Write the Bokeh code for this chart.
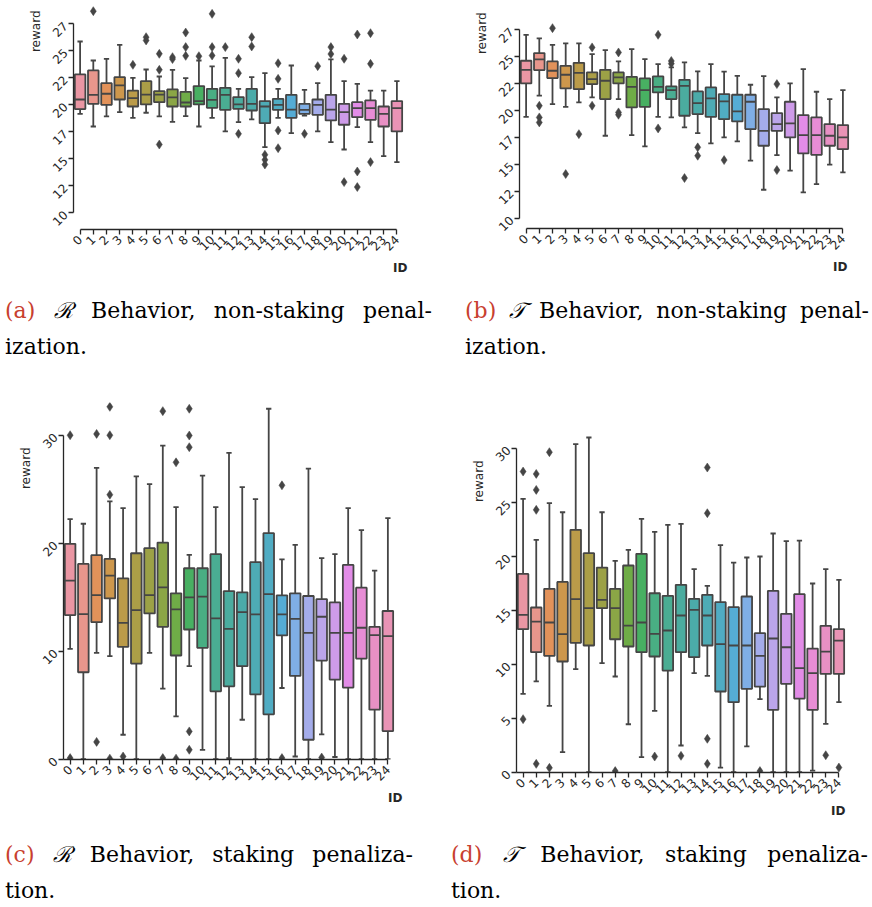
import math
import colorsys
from bokeh.plotting import figure
from bokeh.models import FixedTicker, Range1d, Div, Title
from bokeh.layouts import column, row
from bokeh.embed import file_html
from bokeh.resources import INLINE

# ---------------- data ----------------
ids = list(range(25))
xtick_labels = [str(i) for i in ids]

yticks_ab = [10, 12.5, 15, 17.5, 20, 22.5, 25, 27.5]
ytick_labels_ab = ["10", "12", "15", "17", "20", "22", "25", "27"]
yticks_c = [0, 10, 20, 30]
ytick_labels_c = ["0", "10", "20", "30"]
yticks_d = [0, 5, 10, 15, 20, 25, 30]
ytick_labels_d = ["0", "5", "10", "15", "20", "25", "30"]

# (a) R behaviour, non-staking penalization
a_low = [19.16, 17.99, 18.92, 19.32, 18.79, 19.26, 18.92, 18.42, 18.95, 17.99, 18.79, 17.53, 18.39,
         18.64, 16.08, 18.79, 17.37, 19.0, 17.53, 16.54, 15.86, 17.93, 16.54, 15.24, 14.69]
a_q1 = [19.6, 20.09, 20.0, 20.49, 19.84, 20.03, 20.24, 19.84, 19.84, 20.03, 19.72, 19.53, 19.63,
        19.47, 18.3, 19.53, 18.79, 19.16, 19.07, 18.55, 18.15, 18.85, 18.61, 17.99, 17.53]
a_med = [20.49, 20.92, 21.02, 21.79, 20.61, 20.95, 20.95, 20.68, 20.21, 20.34, 20.46, 20.92, 20.03,
         20.09, 19.84, 20.0, 19.56, 19.53, 20.0, 19.56, 19.32, 19.69, 19.69, 19.16, 19.69]
a_q3 = [22.81, 23.18, 22.0, 22.56, 21.32, 22.19, 21.26, 21.42, 21.2, 21.73, 21.48, 21.57, 20.71,
        21.48, 20.34, 20.55, 20.92, 20.09, 20.49, 20.92, 20.09, 20.24, 20.4, 19.84, 20.34]
a_high = [25.86, 24.1, 24.26, 25.55, 22.5, 23.27, 22.62, 23.24, 22.47, 24.1, 23.55, 24.35, 21.48,
          22.56, 22.93, 21.48, 23.64, 21.39, 22.0, 24.2, 22.19, 21.94, 21.32, 21.32, 22.19]
a_out_id = [1, 4, 5, 5, 6, 6, 6, 7, 7, 8, 8, 8, 9, 10, 10, 10, 11, 12, 12, 12, 13, 13, 14, 14, 14,
            15, 15, 15, 15, 17, 18, 19, 19, 20, 20, 21, 21, 21, 22, 22, 22]
a_out_val = [28.67, 23.7, 26.26, 25.96, 24.72, 23.24, 16.32, 24.41, 24.23, 26.69, 25.34, 24.53, 24.5,
             28.42, 25.34, 24.56, 25.34, 24.26, 22.93, 17.31, 26.26, 25.4, 15.37, 14.9, 14.47,
             23.85, 22.4, 17.62, 15.98, 17.31, 23.58, 25.34, 24.7, 24.26, 12.84, 26.51, 13.82, 12.38,
             26.63, 23.79, 14.69]

# (b) T behaviour, non-staking penalization
b_low = [19.41, 21.37, 20.59, 20.34, 20.75, 21.21, 17.65, 21.06, 17.71, 16.66, 19.41, 19.35, 18.42,
         17.9, 16.94, 17.49, 17.12, 15.33, 12.63, 15.85, 14.4, 12.38, 13.16, 14.96, 14.24]
b_q1 = [22.51, 23.75, 23.01, 22.05, 21.99, 22.45, 21.06, 22.51, 20.28, 20.34, 21.68, 21.06, 19.51,
        19.66, 19.41, 19.2, 18.98, 18.27, 16.72, 18.11, 17.49, 16.01, 15.88, 16.72, 16.41]
b_med = [23.78, 24.74, 23.69, 23.32, 23.5, 22.91, 22.76, 23.07, 22.2, 21.89, 22.2, 21.89, 22.29,
         20.68, 21.12, 20.84, 19.91, 20.81, 18.11, 18.73, 18.8, 17.71, 17.71, 17.65, 17.49]
b_q3 = [24.62, 25.33, 24.56, 24.15, 24.43, 23.53, 23.78, 23.53, 23.13, 22.98, 23.16, 22.23, 22.85,
        21.77, 22.14, 21.52, 21.46, 21.46, 20.13, 19.76, 20.81, 19.57, 19.35, 18.73, 18.64]
b_high = [27.03, 26.69, 26.1, 26.23, 26.23, 25.24, 25.61, 24.56, 25.7, 24.77, 24.31, 24.0, 24.46,
          23.63, 24.31, 23.6, 23.22, 22.39, 23.19, 21.21, 22.51, 23.84, 21.74, 21.06, 21.89]
b_out_id = [1, 1, 1, 2, 3, 4, 5, 5, 7, 7, 7, 10, 10, 11, 11, 12, 13, 13, 15, 19, 19]
b_out_val = [20.44, 19.35, 18.89, 27.65, 14.09, 17.8, 25.86, 20.44, 25.39, 19.82, 19.6, 27.03, 18.33,
             24.6, 24.35, 13.72, 16.57, 15.79, 15.39, 22.45, 14.46]

# (c) R behaviour, staking penalization
c_low = [10.22, 0, 9.85, 9.54, 2.26, 0, 9.85, 6.53, 3.96, 8.61, 0.87, 0, 0.1, 3.65, 0, 0, 6.59, 0.25,
         0, 2.29, 0.2, 0, 0, 0, 0]
c_q1 = [13.34, 8.05, 12.69, 14.89, 10.4, 8.85, 13.5, 12.26, 9.6, 12.01, 10.31, 6.28, 6.75, 8.61, 6.0,
        4.15, 11.46, 7.71, 1.8, 9.13, 7.37, 6.63, 9.32, 4.58, 2.6]
c_med = [16.53, 13.44, 15.2, 17.0, 12.63, 13.81, 15.2, 15.91, 13.87, 14.98, 15.05, 13.03, 12.07,
         13.62, 13.41, 15.29, 13.41, 13.0, 11.7, 13.19, 11.7, 11.7, 12.17, 11.49, 11.39]
c_q3 = [19.94, 18.08, 18.89, 18.54, 16.75, 19.07, 19.54, 20.06, 15.36, 17.68, 17.68, 18.98, 15.57,
        15.45, 18.24, 20.93, 15.17, 15.36, 15.11, 14.83, 14.52, 17.99, 15.88, 12.26, 13.72]
c_high = [22.23, 21.8, 26.97, 23.87, 23.25, 26.19, 25.48, 29.04, 23.34, 18.92, 26.25, 23.34, 28.36,
          25.2, 24.09, 32.45, 18.51, 19.85, 26.9, 18.61, 18.98, 23.25, 21.21, 17.46, 22.32]
c_out_id = [0, 0, 2, 2, 3, 3, 3, 3, 4, 7, 7, 8, 8, 9, 9, 9, 9, 9, 16, 16, 19]
c_out_val = [30.0, 0.1, 30.12, 1.6, 32.63, 30.0, 24.49, 0.05, 0.25, 32.23, 0.1, 27.49, 0.05,
             32.45, 29.97, 28.89, 2.57, 0.87, 25.36, 0.1, 0.15]

# (d) T behaviour, staking penalization
d_low = [7.25, 8.4, 6.14, 1.85, 9.54, 0, 10.09, 8.86, 4.44, 1.39, 5.68, 0, 2.47, 9.17, 8.92, 0.43, 0,
         2.38, 6.76, 0, 0, 0, 0.15, 4.48, 6.48]
d_q1 = [13.24, 11.11, 10.77, 10.25, 11.98, 11.73, 15.19, 12.31, 11.64, 11.11, 10.71, 9.41, 11.11,
        10.65, 11.73, 7.47, 6.48, 7.72, 7.93, 5.77, 8.18, 6.82, 5.77, 9.1, 9.1]
d_med = [14.57, 13.95, 13.86, 12.78, 16.02, 15.19, 15.96, 15.19, 13.58, 13.86, 12.81, 13.12, 14.51,
         15.03, 14.51, 11.85, 11.73, 11.73, 10.77, 12.38, 11.57, 9.63, 9.17, 11.17, 12.19]
d_q3 = [18.36, 15.25, 16.98, 17.62, 22.44, 20.28, 18.95, 16.98, 19.14, 20.22, 16.57, 16.33, 17.35,
        16.05, 16.42, 15.74, 15.28, 16.27, 12.87, 16.79, 14.66, 16.48, 11.45, 13.55, 13.24]
d_high = [25.31, 21.51, 24.91, 24.07, 30.37, 30.99, 24.07, 19.57, 20.59, 23.46, 22.25, 22.9, 22.99,
          18.8, 17.25, 21.02, 19.41, 19.88, 19.97, 22.1, 21.39, 21.45, 17.47, 18.8, 17.81]
d_out_id = [0, 0, 1, 1, 1, 1, 2, 2, 7, 10, 12, 14, 14, 14, 14, 18, 23, 24]
d_out_val = [27.84, 4.91, 27.62, 26.14, 24.29, 0.77, 29.63, 0.4, 0.1, 1.45, 1.51, 28.21, 23.98, 3.09,
             0.77, 0.1, 1.57, 0.43]

captions = [
    ("(a)", "\u211B", ["Behavior,", "non-staking", "penal-"], "ization."),
    ("(b)", "\U0001D4AF", ["Behavior,", "non-staking", "penal-"], "ization."),
    ("(c)", "\u211B", ["Behavior,", "staking", "penaliza-"], "tion."),
    ("(d)", "\U0001D4AF", ["Behavior,", "staking", "penaliza-"], "tion."),
]

# ---------------- colours (seaborn husl palette, desaturated) ----------------
_M = [[3.2406, -1.5372, -0.4986], [-0.9689, 1.8758, 0.0415], [0.0557, -0.2040, 1.0570]]
_refU, _refV, _refY = 0.19784, 0.46834, 1.0
_lab_e, _lab_k = 0.008856, 903.3


def _max_chroma(L, H):
    hrad = math.radians(H)
    sinH, cosH = math.sin(hrad), math.cos(hrad)
    sub1 = math.pow(L + 16, 3.0) / 1560896.0
    sub2 = sub1 if sub1 > 0.008856 else (L / 903.3)
    result = float("inf")
    for m1, m2, m3 in _M:
        top = (0.99915 * m1 + 1.05122 * m2 + 1.14460 * m3) * sub2
        rbottom = 0.86330 * m3 - 0.17266 * m2
        lbottom = 0.12949 * m3 - 0.38848 * m1
        bottom = (rbottom * sinH + lbottom * cosH) * sub2
        for t in (0.0, 1.0):
            C = L * (top - 1.05122 * t) / (bottom + 0.17266 * sinH * t)
            if 0.0 < C < result:
                result = C
    return result


def _f_inv(t):
    return t ** 3 if t ** 3 > _lab_e else (116.0 * t - 16.0) / _lab_k


def _from_linear(c):
    return 12.92 * c if c <= 0.0031308 else 1.055 * math.pow(c, 1 / 2.4) - 0.055


def husl_to_rgb(H, S, L):
    C = _max_chroma(L, H) / 100.0 * S
    hrad = math.radians(H)
    U, V = math.cos(hrad) * C, math.sin(hrad) * C
    varY = _f_inv((L + 16.0) / 116.0)
    varU = U / (13.0 * L) + _refU
    varV = V / (13.0 * L) + _refV
    Y = varY * _refY
    X = 0.0 - (9.0 * Y * varU) / ((varU - 4.0) * varV - varU * varV)
    Z = (9.0 * Y - (15.0 * varV * Y) - (varV * X)) / (3.0 * varV)
    rgb = [_from_linear(r[0] * X + r[1] * Y + r[2] * Z) for r in _M]
    return [min(1.0, max(0.0, v)) for v in rgb]


def palette(n):
    cols = []
    for i in range(n):
        h = ((i / n) + 0.01) % 1 * 359
        r, g, b = husl_to_rgb(h, 0.9 * 99, 0.7 * 99)
        hh, ll, ss = colorsys.rgb_to_hls(r, g, b)
        cols.append(colorsys.hls_to_rgb(hh, ll, ss * 0.75))
    return cols


rgb_cols = palette(len(ids))
box_colors = ["#%02x%02x%02x" % tuple(int(round(c * 255)) for c in col) for col in rgb_cols]
lum = min(colorsys.rgb_to_hls(*c)[1] for c in rgb_cols) * 0.6
GRAY = "#%02x%02x%02x" % ((int(round(lum * 255)),) * 3)
AX = "#262626"
FONT = "DejaVu Sans"
LW = 1.8


def panel(low, q1, med, q3, high, out_id, out_val, yr, yticks, ylabels, h, borders,
          xbounds, reward_offset, id_offset):
    left, right, top, bottom = borders
    p = figure(width=436, height=h, x_range=Range1d(-0.5, 24.5), y_range=Range1d(*yr),
               output_backend="svg", toolbar_location=None,
               min_border_left=left, min_border_right=right,
               min_border_top=top, min_border_bottom=bottom)
    p.title = None
    p.xgrid.visible = False
    p.ygrid.visible = False
    p.outline_line_color = None
    p.background_fill_color = "white"
    p.border_fill_color = "white"

    x = ids
    p.segment(x0=x, y0=q3, x1=x, y1=high, line_color=GRAY, line_width=LW)
    p.segment(x0=x, y0=q1, x1=x, y1=low, line_color=GRAY, line_width=LW)
    p.segment(x0=[i - 0.2 for i in x], y0=high, x1=[i + 0.2 for i in x], y1=high,
              line_color=GRAY, line_width=LW)
    p.segment(x0=[i - 0.2 for i in x], y0=low, x1=[i + 0.2 for i in x], y1=low,
              line_color=GRAY, line_width=LW)
    p.vbar(x=x, width=0.8, bottom=q1, top=q3, fill_color=box_colors, line_color=GRAY,
           line_width=LW)
    p.segment(x0=[i - 0.4 for i in x], y0=med, x1=[i + 0.4 for i in x], y1=med,
              line_color=GRAY, line_width=LW)
    p.scatter(x=out_id, y=out_val, marker="diamond", size=9, fill_color=GRAY,
              line_color=GRAY, line_width=0.5)

    for ax in (p.xaxis[0], p.yaxis[0]):
        ax.axis_line_color = AX
        ax.axis_line_width = 1.3
        ax.major_tick_line_color = AX
        ax.major_tick_line_width = 1.3
        ax.major_tick_out = 5
        ax.major_tick_in = 0
        ax.minor_tick_line_color = None
        ax.major_label_text_font = FONT
        ax.major_label_text_font_size = "12px"
        ax.major_label_text_color = AX
        ax.major_label_orientation = math.pi / 4
        ax.major_label_standoff = 3

    p.xaxis.ticker = FixedTicker(ticks=ids)
    p.xaxis.major_label_overrides = {i: s for i, s in zip(ids, xtick_labels)}
    p.xaxis.bounds = xbounds
    p.yaxis.ticker = FixedTicker(ticks=yticks)
    p.yaxis.major_label_overrides = {t: s for t, s in zip(yticks, ylabels)}
    p.yaxis.bounds = (yticks[0], yticks[-1])

    p.add_layout(Title(text="reward", align="right", text_font=FONT, text_font_size="12px",
                       text_font_style="normal", text_color=AX, standoff=6,
                       offset=reward_offset), "left")
    p.add_layout(Title(text="ID", align="right", text_font=FONT, text_font_size="12px",
                       text_font_style="bold", text_color=AX, standoff=2,
                       offset=id_offset), "below")
    return p


pa = panel(a_low, a_q1, a_med, a_q3, a_high, a_out_id, a_out_val, (8.45, 29.38),
           yticks_ab, ytick_labels_ab, 290, (73, 33, 3, 61), (0, 24), 7, -4)
pb = panel(b_low, b_q1, b_med, b_q3, b_high, b_out_id, b_out_val, (9.03, 29.94),
           yticks_ab, ytick_labels_ab, 290, (83, 23, 3, 62), (0, 24), 9, 2)
pc = panel(c_low, c_q1, c_med, c_q3, c_high, c_out_id, c_out_val, (-0.03, 33.03),
           yticks_c, ytick_labels_c, 425, (63, 42, 2, 66), (-0.5, 24), 45, -8)
pd = panel(d_low, d_q1, d_med, d_q3, d_high, d_out_id, d_out_val, (-0.03, 31.64),
           yticks_d, ytick_labels_d, 425, (80, 27, 30, 53), (-0.5, 24), 30, 0)


def caption(idx, left, width, height, pad_top):
    tag, sym, words, tail = captions[idx]
    spans = ['<span style="color:#c8402f">%s</span>' % tag,
             '<span style="font-style:italic">%s</span>' % sym]
    spans += ["<span>%s</span>" % w for w in words]
    html = ('<div style="padding-top:%dpx;margin-left:%dpx;width:%dpx;'
            'font-family:\'DejaVu Serif\',serif;font-size:22px;line-height:36px;'
            'color:#000">'
            '<div style="display:flex;justify-content:space-between">%s</div>'
            '<div>%s</div></div>') % (pad_top, left, width, "".join(spans), tail)
    return Div(text=html, width=436, height=height, margin=0)


cap_a = caption(0, 5, 427, 110, 3)
cap_b = caption(1, 29, 404, 110, 3)
cap_c = caption(2, 5, 408, 82, 12)
cap_d = caption(3, 15, 417, 82, 12)

# each plot wrapped in its own column so that frames are not aligned across a row
layout = column(row(column(pa), column(pb)), row(cap_a, cap_b),
                row(column(pc), column(pd)), row(cap_c, cap_d))

open("out.html", "w").write(file_html(layout, INLINE))
